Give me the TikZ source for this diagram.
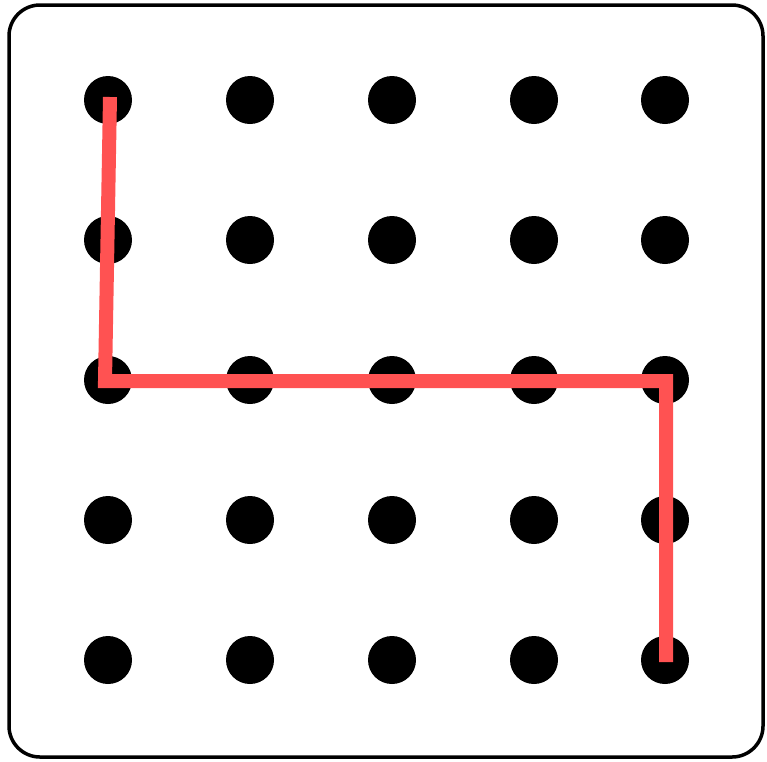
\documentclass[tikz,border=0pt]{standalone}
\definecolor{pathred}{RGB}{255,82,82}
\tikzset{
  dot/.style={circle,fill=black,minimum size=48pt,inner sep=0pt},
  frame/.style={draw=black,line width=3.5pt,rounded corners=31pt},
  redpath/.style={draw=pathred,line width=14pt,line cap=butt,line join=miter}
}
\begin{document}
\begin{tikzpicture}[x=1pt,y=-1pt]
\useasboundingbox (0,0) rectangle (767,761);
\draw[frame] (9,5) rectangle (763,757);
\foreach \c [count=\i] in {108,250,392,534,665}{
  \foreach \r [count=\j] in {100,240,380,520,660}{
    \node[dot] (d\i\j) at (\c,\r) {};
  }
}
\coordinate (p1) at (110,97);
\coordinate (p2) at (105,381);
\coordinate (p3) at (666,381);
\coordinate (p4) at (666,662);
\draw[redpath] (p1) -- (p2) -- (p3) -- (p4);
\end{tikzpicture}
\end{document}
